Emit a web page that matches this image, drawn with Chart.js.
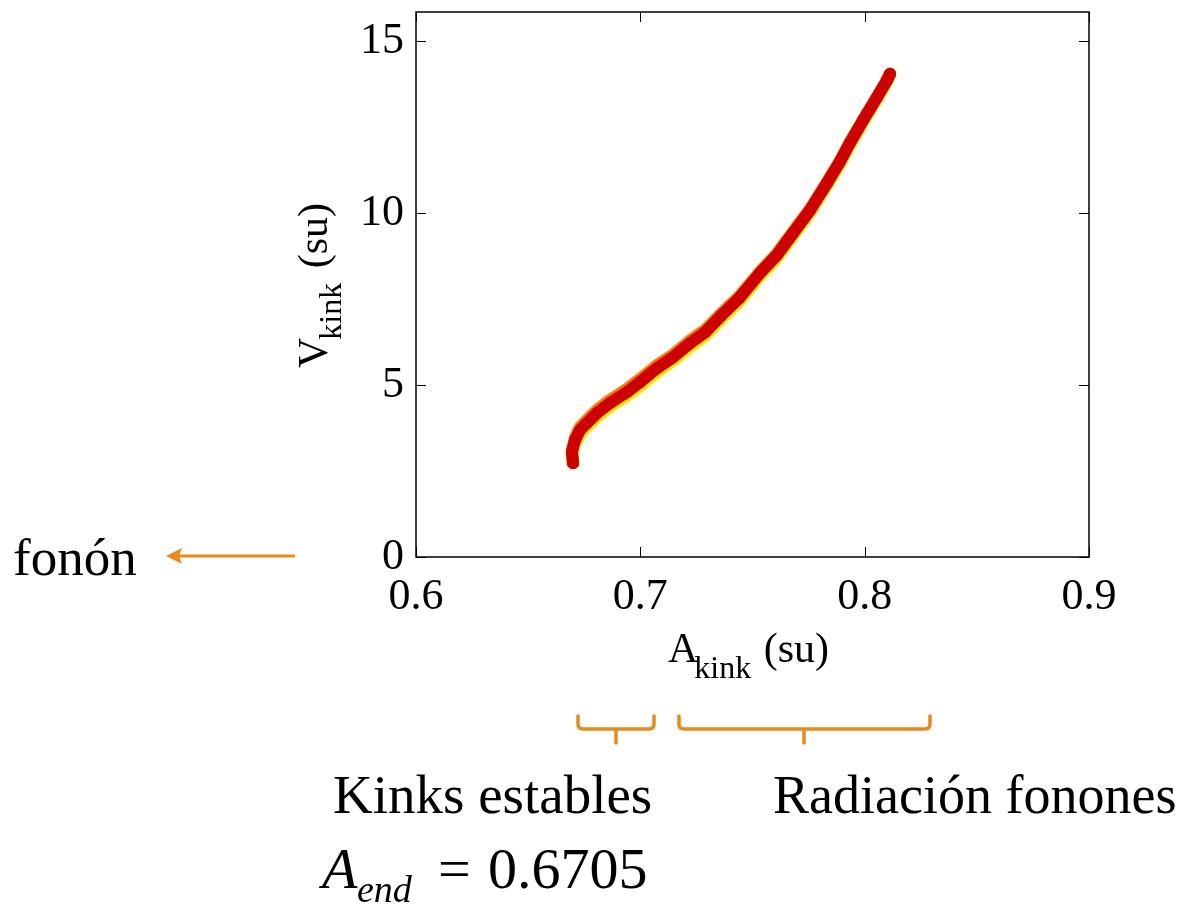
<!DOCTYPE html>
<html>
<head>
<meta charset="utf-8">
<script src="https://cdn.jsdelivr.net/npm/chart.js@4.4.1/dist/chart.umd.min.js"></script>
<style>
  html, body { margin: 0; padding: 0; background: #fff; }
  #wrap { width: 1179px; height: 904px; position: relative; }
</style>
</head>
<body>
<div id="wrap"><canvas id="kinkChart"></canvas></div>
<script>
// tick labels
const xTicks = [0.6, 0.7, 0.8, 0.9];
const yTicks = [0, 5, 10, 15];

// kink amplitude (x) and velocity (y)
const amplitude = [0.6700, 0.6695, 0.6709, 0.6731, 0.6762, 0.6807, 0.6865, 0.6941, 0.6999, 0.7074,
                   0.7146, 0.7222, 0.7290, 0.7362, 0.7440, 0.7534, 0.7609, 0.7681, 0.7757, 0.7832,
                   0.7890, 0.7935, 0.7993, 0.8055, 0.8100, 0.8113];
const velocityRed = [2.73, 3.05, 3.40, 3.69, 3.90, 4.19, 4.48, 4.80, 5.09, 5.49,
                     5.81, 6.22, 6.54, 7.03, 7.52, 8.26, 8.78, 9.42, 10.09, 10.87,
                     11.50, 12.05, 12.70, 13.37, 13.87, 14.05];
// the yellow and orange runs peek out below / above the red one
const velocityYellow = [2.75, 3.00, 3.30, 3.58, 3.80, 4.08, 4.38, 4.70, 4.98, 5.38,
                        5.72, 6.12, 6.45, 6.94, 7.43, 8.18, 8.71, 9.35, 10.03, 10.82,
                        11.45, 12.00, 12.66, 13.34, 13.85, 14.03];
const velocityOrange = [2.75, 3.10, 3.48, 3.78, 3.99, 4.28, 4.57, 4.89, 5.18, 5.58,
                        5.89, 6.30, 6.62, 7.10, 7.58, 8.31, 8.83, 9.47, 10.13, 10.91,
                        11.53, 12.08, 12.72, 13.39, 13.88, 14.06];

const serif = '"Liberation Serif", "Times New Roman", serif';
const orange = '#E8891A';

function pts(ys) {
    return amplitude.map((a, i) => ({ x: a, y: ys[i] }));
}

// frame, inward ticks, axis titles and the notes around the plot
const decorations = {
    id: 'decorations',
    afterDraw(chart) {
        const ctx = chart.ctx;
        const area = chart.chartArea;
        const xs = chart.scales.x;
        const ys = chart.scales.y;
        ctx.save();

        // frame
        ctx.strokeStyle = '#000';
        ctx.lineWidth = 1.5;
        ctx.strokeRect(area.left, area.top, area.right - area.left, area.bottom - area.top);

        // inward tick marks, mirrored
        const tl = 10;
        ctx.lineWidth = 1;
        ctx.beginPath();
        xTicks.forEach(v => {
            const px = Math.round(xs.getPixelForValue(v)) + 0.5;
            ctx.moveTo(px, area.bottom); ctx.lineTo(px, area.bottom - tl);
            ctx.moveTo(px, area.top); ctx.lineTo(px, area.top + tl);
        });
        yTicks.forEach(v => {
            const py = Math.round(ys.getPixelForValue(v)) + 0.5;
            ctx.moveTo(area.left, py); ctx.lineTo(area.left + tl, py);
            ctx.moveTo(area.right, py); ctx.lineTo(area.right - tl, py);
        });
        ctx.stroke();

        ctx.fillStyle = '#000';
        ctx.textBaseline = 'alphabetic';
        ctx.textAlign = 'left';

        // x title: A_kink (su)
        ctx.font = '42px ' + serif;
        ctx.fillText('A', 668, 662);
        let w = ctx.measureText('A').width;
        ctx.font = '32px ' + serif;
        ctx.fillText('kink', 668 + w - 4, 678);
        w += ctx.measureText('kink').width - 4;
        ctx.font = '42px ' + serif;
        ctx.fillText(' (su)', 668 + w + 2, 662);

        // y title: V_kink (su), rotated
        ctx.save();
        ctx.translate(327, 368);
        ctx.rotate(-Math.PI / 2);
        ctx.font = '42px ' + serif;
        ctx.fillText('V', 0, 0);
        w = ctx.measureText('V').width;
        ctx.font = '32px ' + serif;
        ctx.fillText('kink', w - 2, 14);
        w += ctx.measureText('kink').width - 2;
        ctx.font = '42px ' + serif;
        ctx.fillText(' (su)', w + 4, 0);
        ctx.restore();

        // fonón with arrow
        ctx.font = '53px ' + serif;
        ctx.fillText('fonón', 13, 575);
        ctx.strokeStyle = orange;
        ctx.fillStyle = orange;
        ctx.lineWidth = 3;
        ctx.beginPath();
        ctx.moveTo(295, 556); ctx.lineTo(178, 556);
        ctx.stroke();
        ctx.beginPath();
        ctx.moveTo(166, 556); ctx.lineTo(182, 548); ctx.lineTo(179, 556); ctx.lineTo(182, 564);
        ctx.closePath();
        ctx.fill();

        // braces under the x axis
        function brace(x1, x2, xm) {
            const yTop = 716, yMid = 729, yTip = 743, r = 5;
            ctx.beginPath();
            ctx.moveTo(x1, yTop);
            ctx.lineTo(x1, yMid - r);
            ctx.quadraticCurveTo(x1, yMid, x1 + r, yMid);
            ctx.lineTo(x2 - r, yMid);
            ctx.quadraticCurveTo(x2, yMid, x2, yMid - r);
            ctx.lineTo(x2, yTop);
            ctx.moveTo(xm, yMid);
            ctx.lineTo(xm, yTip);
            ctx.stroke();
        }
        ctx.lineWidth = 3.5;
        ctx.lineCap = 'round';
        brace(578, 654, 616);
        brace(679, 930, 804);

        // notes
        ctx.fillStyle = '#000';
        ctx.font = '55px ' + serif;
        ctx.fillText('Kinks estables', 333, 813);
        ctx.font = '54px ' + serif;
        ctx.fillText('Radiación fonones', 773, 813);

        ctx.font = 'italic 58px ' + serif;
        ctx.fillText('A', 322, 888);
        ctx.font = 'italic 38px ' + serif;
        ctx.fillText('end', 357, 902);
        ctx.font = '58px ' + serif;
        ctx.fillText('=', 438, 888);
        ctx.fillText('0.6705', 488, 888);

        ctx.restore();
    }
};

new Chart(document.getElementById('kinkChart').getContext('2d'), {
    type: 'scatter',
    data: {
        datasets: [{
            label: 'red',
            data: pts(velocityRed),
            showLine: true,
            borderColor: '#CC0000',
            backgroundColor: '#CC0000',
            borderWidth: 12,
            borderCapStyle: 'round',
            borderJoinStyle: 'round',
            pointRadius: 6,
            pointBorderWidth: 0,
            order: 0
        }, {
            label: 'orange',
            data: pts(velocityOrange),
            showLine: true,
            borderColor: '#FF7A00',
            borderWidth: 12,
            borderCapStyle: 'round',
            borderJoinStyle: 'round',
            pointRadius: 0,
            order: 1
        }, {
            label: 'yellow',
            data: pts(velocityYellow),
            showLine: true,
            borderColor: '#FFE600',
            borderWidth: 13,
            borderCapStyle: 'round',
            borderJoinStyle: 'round',
            pointRadius: 0,
            order: 2
        }]
    },
    options: {
        responsive: true,
        maintainAspectRatio: false,
        animation: false,
        layout: {
            padding: { top: 12, right: 90, left: 0, bottom: 0 }
        },
        scales: {
            x: {
                type: 'linear',
                min: 0.6,
                max: 0.9,
                afterBuildTicks: s => { s.ticks = xTicks.map(v => ({ value: v })); },
                afterFit: s => { s.height = 347; s.paddingLeft = 0; s.paddingRight = 0; },
                grid: { display: false, drawTicks: false },
                border: { display: false },
                ticks: {
                    autoSkip: false,
                    maxRotation: 0,
                    padding: 14,
                    color: '#000',
                    font: { family: serif, size: 44 },
                    callback: v => v.toFixed(1)
                }
            },
            y: {
                type: 'linear',
                min: 0,
                max: 15.85,
                afterBuildTicks: s => { s.ticks = yTicks.map(v => ({ value: v })); },
                afterFit: s => { s.width = 416; s.paddingTop = 0; s.paddingBottom = 0; },
                grid: { display: false, drawTicks: false },
                border: { display: false },
                ticks: {
                    padding: 12,
                    color: '#000',
                    font: { family: serif, size: 44 },
                    callback: v => String(v)
                }
            }
        },
        plugins: {
            legend: { display: false },
            tooltip: { enabled: false }
        }
    },
    plugins: [decorations]
});
</script>
</body>
</html>
